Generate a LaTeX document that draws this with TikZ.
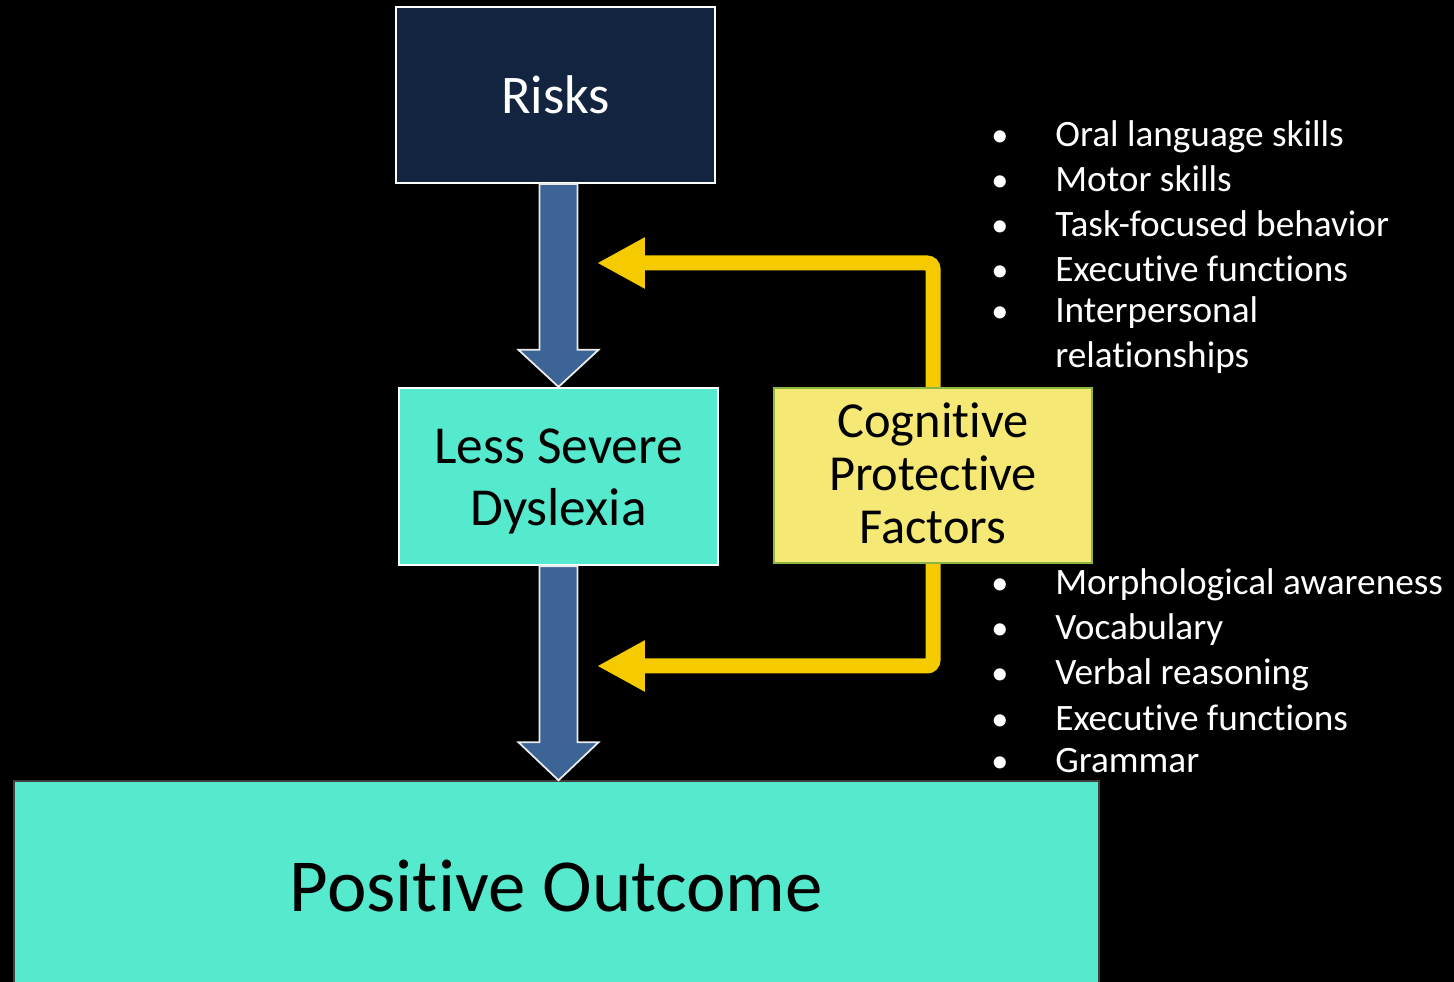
\documentclass[tikz,border=0pt]{standalone}
\usepackage{fontspec}
\setmainfont{Carlito}[RawFeature={-liga;-clig;-dlig;-calt}]
\usetikzlibrary{arrows.meta,calc}

\definecolor{navy}{HTML}{12243F}
\definecolor{steel}{HTML}{3C6496}
\definecolor{turq}{HTML}{55E9CD}
\definecolor{paleyellow}{HTML}{F5E874}
\definecolor{leafgreen}{HTML}{8DB640}
\definecolor{gold}{HTML}{F5CB00}
\definecolor{edgegrey}{HTML}{404040}

\begin{document}
\begin{tikzpicture}[x=0.02cm,y=-0.02cm,
  box/.style={rectangle, inner sep=0pt, align=center, line width=1.3pt},
  boxtext/.style={inner sep=0pt, align=center, text=black},
  barrow/.style={fill=steel, draw=white!92!black, line width=1pt, line join=miter},
  goldarrow/.style={draw=gold, line width=0.3cm, rounded corners=0.12cm,
    -{Triangle[length=0.96cm,width=0.96cm]}},
  bullettext/.style={anchor=base west, inner sep=0pt, text=white,
    font=\fontsize{21.2}{25}\selectfont},
  bulletdot/.style={anchor=base, inner sep=0pt, text=white,
    font=\fontsize{19.5}{25}\selectfont}]

  % page and background
  \fill[black] (0,0) rectangle (1454,982);
  \useasboundingbox (0,0) rectangle (1454,982);
  \clip (0,0) rectangle (1454,982);

  % boxes
  \node[box, fill=navy, draw=white, text=white, minimum width=6.38cm, minimum height=3.52cm,
        font=\fontsize{31}{36}\selectfont] (risks) at (555.5,95) {Risks};
  \node[box, fill=turq, draw=white, minimum width=6.38cm, minimum height=3.54cm] (lsd) at (558.5,476.5) {};
  \node[boxtext, font=\fontsize{30.4}{35.7}\selectfont] (lsdtext) at ($(lsd.center)+(0,5)$) {Less Severe\\Dyslexia};
  \node[box, fill=turq, draw=edgegrey, line width=0.8pt, text=black, minimum width=21.7cm,
        minimum height=4.2cm, font=\fontsize{42.6}{50}\selectfont] (po) at (556.5,886) {Positive Outcome};

  % gold feedback arrows (behind the protective factors box)
  \coordinate (p1) at (597,263);
  \coordinate (p2) at (597,666);
  \node[box, minimum width=6.36cm, minimum height=3.5cm] (cpf) at (933,475.5) {};
  \draw[goldarrow] (cpf.north) |- (p1);
  \draw[goldarrow] (cpf.south) |- (p2);
  \node[box, fill=paleyellow, draw=leafgreen, line width=1.2pt, minimum width=6.36cm,
        minimum height=3.5cm] (cpfbox) at (cpf.center) {};
  \node[boxtext, font=\fontsize{28.7}{30}\selectfont] (cpftext) at ($(cpf.center)+(0,-2)$)
        {Cognitive\\Protective\\Factors};

  % block arrows between the main boxes
  \draw[barrow] (lsd.north) -- ++(-40,-37) -- ++(21,0) |- (risks.south)
      -| ($(lsd.north)+(19,-37)$) -- ++(21,0) -- cycle;
  \draw[barrow] (lsd.south |- po.north) -- ++(-40,-38) -- ++(21,0) |- (lsd.south)
      -| ($(lsd.south |- po.north)+(19,-38)$) -- ++(21,0) -- cycle;

  % upper list
  \foreach \y/\t [count=\i] in {147/Oral language skills, 192/Motor skills,
      237/Task-focused behavior, 282/Executive functions, 323/Interpersonal} {
    \node[bulletdot] (ub\i) at (1000,\y) {•};
    \node[bullettext] (ut\i) at (1055,\y) {\t};
  }
  \node[bullettext] (ut6) at (1055,368) {relationships};

  % lower list
  \foreach \y/\t [count=\i] in {595/Morphological awareness, 640/Vocabulary,
      685/Verbal reasoning, 731/Executive functions, 772/Grammar} {
    \node[bulletdot] (lb\i) at (1000,\y) {•};
    \node[bullettext] (lt\i) at (1055,\y) {\t};
  }
\end{tikzpicture}
\end{document}
